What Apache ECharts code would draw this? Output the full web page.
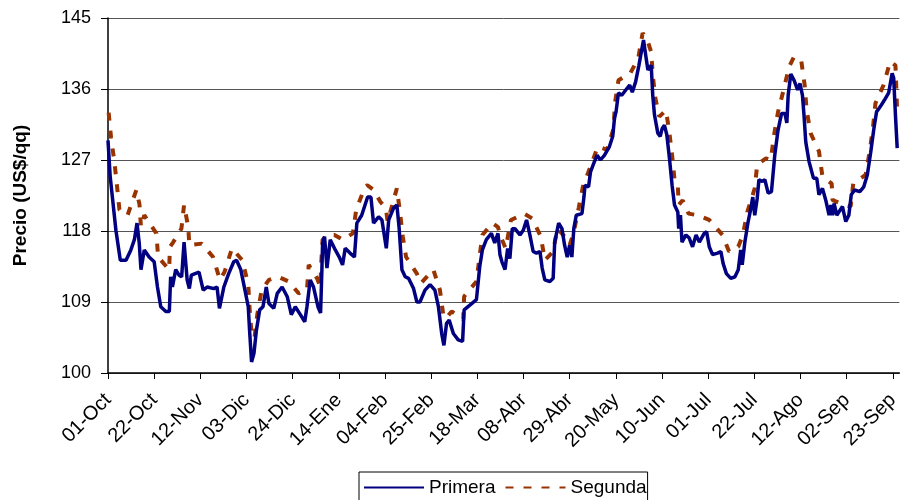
<!DOCTYPE html>
<html>
<head>
<meta charset="utf-8">
<script src="https://cdn.jsdelivr.net/npm/echarts@6/dist/echarts.min.js"></script>
<style>
  html, body { margin: 0; padding: 0; background: #fff; }
  #chart { width: 902px; height: 500px; }
</style>
</head>
<body>
<div id="chart"></div>
<script>
// tick labels every 21 days, starting 01-Oct
const tickLabels = ['01-Oct', '22-Oct', '12-Nov', '03-Dic', '24-Dic', '14-Ene', '04-Feb', '25-Feb', '18-Mar',
  '08-Abr', '29-Abr', '20-May', '10-Jun', '01-Jul', '22-Jul', '12-Ago', '02-Sep', '23-Sep']

// Primera: day since 01-Oct, price
const primeraDays = [0, 1, 3.6, 5.6, 8.2, 10.4, 12, 13.2, 14.2, 15, 16.5, 18.7, 21, 22.5, 24, 26.3, 27.9, 28.5, 29.3, 30.8,
  32.3, 33.5, 34.6, 36, 37, 37.9, 41.4, 43.3, 45.1, 48.1, 49.6, 50.7, 52.7, 54.9, 57.2, 58.5, 60.4, 62.3, 63.8, 64.4,
  65.3, 66.4, 67.5, 69, 70.5, 72, 73.2, 75.4, 77, 79.2, 81.5, 83.4, 85.2, 87.5, 89.5, 90.5, 92, 93.5, 95.5, 96.7,
  97.3, 97.6, 98.5, 99.6, 101.1, 103.4, 105.2, 106.7, 107.9, 110.1, 112.1, 113.2, 115.4, 118.1, 119.6, 120.8, 123.1, 124.6, 126.6, 127.7,
  129.9, 131.4, 132.4, 133.7, 135.2, 136.7, 139, 140.5, 141.9, 144.2, 146.5, 148.7, 150.3, 151.8, 152.8, 154, 155.2, 157.1, 159.3, 161.3,
  162, 164.6, 167.6, 169.1, 170.3, 172.1, 174.4, 175.9, 177.4, 178.3, 179.2, 180.6, 181.8, 182.8, 183.9, 185.1, 187.4, 188.9, 190.4, 191.9,
  193.4, 194.9, 196.5, 197.5, 198.7, 201, 202.5, 203.2, 205, 206.5, 207.7, 208.9, 210, 211, 211.9, 213, 215.6, 216.5, 217, 218.6,
  219.5, 221, 222.5, 224, 225.8, 228.1, 229.6, 230.4, 231.1, 232.2, 233.7, 235.6, 237.3, 238.5, 240, 241.5, 242.6, 243.6, 244.8, 245.6,
  247.1, 247.8, 248.6, 250.1, 251.2, 252.1, 253.1, 254.2, 255.4, 256.6, 257.7, 259.2, 259.6, 260.4, 261.1, 262.9, 264.4, 265.9, 267.5, 269,
  271.2, 272.3, 273.5, 275, 277.3, 278.8, 279.8, 281.3, 283.3, 285.2, 286.7, 287.8, 288.5, 289.7, 291.2, 292.3, 293.3, 294.2, 295.3, 296.1,
  297.6, 298.8, 300.3, 301.8, 303.3, 304.8, 306.4, 307.9, 308.8, 309.4, 310.6, 312.1, 313.7, 314.8, 315.9, 316.6, 317.4, 318.9, 320.9, 322.4,
  323.4, 325, 326.5, 328, 328.8, 329.6, 330.3, 331.5, 334.1, 335.6, 337, 338.1, 339.6, 342, 343.8, 345.4, 346.9, 348.4, 349.6, 351.4,
  353.2, 355.1, 356.7, 357.4, 358.2, 359]
const primeraValues = [129.5, 124.9, 118.1, 114.3, 114.3, 115.6, 116.9, 119.0, 116.5, 113.1, 115.6, 114.7, 114.1, 110.9, 108.4, 107.8, 107.8, 112.2, 110.9, 113.1,
  112.4, 112.2, 116.6, 111.8, 110.7, 112.4, 112.8, 110.5, 110.9, 110.7, 110.9, 108.2, 110.9, 112.6, 114.1, 114.3, 113.1, 110.5, 108.4, 105.4,
  101.4, 102.5, 105.4, 108, 108.4, 110.9, 108.8, 108.2, 110.1, 110.9, 109.7, 107.4, 108.4, 107.4, 106.5, 108.4, 111.8, 110.9, 108.4, 107.6,
  113.1, 116.4, 117.3, 113.3, 116.9, 115.6, 114.7, 113.7, 115.8, 115.2, 114.7, 119.0, 120.0, 122.3, 122.3, 119.0, 119.8, 119.4, 115.8, 119.4,
  120.9, 121.3, 118.5, 113.1, 112.2, 112.0, 110.7, 109.0, 109.0, 110.5, 111.2, 110.5, 108.4, 105.0, 103.5, 106.3, 106.7, 105.0, 104.2, 104.0,
  108.0, 108.6, 109.3, 113.5, 115.6, 116.9, 117.7, 116.5, 117.7, 115.0, 114.1, 113.1, 115.8, 114.5, 118.3, 118.3, 117.5, 118.1, 119.4, 117.5,
  115.4, 115.2, 115.4, 113.3, 111.8, 111.6, 112.0, 116.6, 119.0, 118.3, 116.2, 114.7, 116.2, 114.7, 118.3, 120.0, 120.2, 122.3, 123.8, 123.6,
  125.5, 126.6, 127.6, 127.0, 127.6, 128.7, 130.0, 132.3, 133.1, 135.5, 135.2, 135.9, 136.5, 135.6, 136.9, 139.0, 140.7, 142.2, 139.9, 138.4,
  139.0, 135.2, 132.7, 130.4, 130.0, 131.0, 131.4, 130.2, 127.2, 123.8, 121.3, 120.4, 118.3, 120.0, 116.6, 117.5, 117.1, 116.0, 117.5, 116.6,
  117.7, 117.9, 116.0, 115.0, 115.2, 115.4, 113.9, 112.6, 112.0, 112.2, 113.1, 115.6, 113.7, 116.6, 119.2, 120.7, 122.3, 120.0, 122.1, 124.5,
  124.3, 124.5, 122.8, 123.0, 127.6, 130.8, 132.9, 132.9, 131.7, 135.2, 137.9, 137.1, 135.9, 136.7, 135.2, 132.7, 129.3, 126.8, 124.7, 124.7,
  122.6, 123.4, 121.9, 120.0, 121.3, 120.0, 121.5, 120.0, 121.1, 119.2, 120.0, 122.6, 123.2, 123.0, 123.6, 125.1, 127.9, 131.0, 133.1, 133.8,
  134.6, 135.5, 138.0, 137.4, 132.7, 128.5]

// Segunda
const segundaDays = [0.3, 1.4, 2.9, 4.1, 5.2, 8.9, 12.9, 14.3, 15, 16.5, 22, 22.8, 27.8, 28.2, 29.7, 33.4, 34.6, 36.5, 37, 42.6,
  47.8, 50.9, 53, 56.4, 61.1, 63.8, 64.4, 65.3, 66.6, 67.9, 69.9, 73.2, 77.4, 82.2, 86.7, 90.5, 91.3, 95.1, 96.6, 97,
  97.6, 100, 103, 106.8, 111.4, 112.9, 116.9, 118, 120.8, 123.9, 126.4, 127.2, 131.4, 132.9, 134.1, 135.6, 140.5, 142.4, 148, 151,
  152.5, 153.6, 156.3, 161.6, 162, 167.6, 168.8, 170.3, 174.8, 177.4, 178.3, 180.9, 183.3, 189.3, 192.9, 196.9, 198.7, 202.5, 204.4, 207.7,
  210, 211.9, 214.1, 216, 219.5, 222.8, 227, 230, 230.6, 232.2, 237.6, 241.2, 243.2, 245.3, 247.1, 247.8, 249, 250.8, 253.8, 255.3,
  256.6, 257.7, 259.2, 259.6, 261.4, 264.1, 268.2, 273.5, 279.5, 282.5, 286.7, 288.8, 290.8, 294.2, 295.3, 299.3, 301.5, 303, 304.8, 307.5,
  309.8, 312.1, 315.4, 316.9, 317.8, 319.6, 323.4, 325, 329.2, 329.6, 335.2, 337.8, 339, 344.6, 346.5, 348, 349.1, 352.8, 355.8, 358.2,
  358.6, 359]
const segundaValues = [133.0, 129.8, 126.8, 123.7, 120.7, 120.0, 123.2, 121.4, 118.5, 120.0, 117.7, 114.7, 113.1, 116.0, 116.6, 118.3, 121.3, 118.5, 116.2, 116.4,
  114.7, 111.8, 112.8, 115.8, 114.3, 111.2, 108.2, 105.0, 104.4, 107.4, 110.5, 111.8, 112.2, 111.6, 110.1, 110.5, 113.7, 112.0, 110.9, 113.9,
  116.9, 117.5, 117.5, 116.9, 117.7, 120.7, 123.6, 123.8, 123.2, 121.7, 120.9, 119.2, 123.4, 120.2, 117.3, 114.7, 112.6, 111.4, 113.1, 110.5,
  107.4, 106.9, 107.8, 106.8, 109.7, 111.6, 114.3, 117.5, 119.0, 118.5, 117.5, 115.8, 119.4, 120.2, 119.6, 117.3, 114.3, 115.4, 118.3, 117.3,
  116.2, 117.9, 120.9, 123.6, 126.2, 128.7, 128.3, 131.0, 134.2, 137.1, 138.0, 139.9, 143.1, 142.2, 140.7, 137.8, 134.8, 132.5, 133.3, 130.6,
  127.6, 124.5, 123.8, 121.3, 121.9, 120.2, 120.0, 119.4, 117.5, 115.4, 116.0, 117.5, 120.4, 123.4, 126.4, 127.2, 127.0, 130.2, 133.1, 136.1,
  138.8, 140.1, 139.5, 136.5, 133.3, 130.4, 128.1, 124.9, 124.0, 121.9, 121.3, 121.1, 124.0, 125.1, 128.1, 131.2, 134.2, 136.5, 139.5, 139.0,
  136.1, 132.9]

const zip = (a, b) => a.map((d, i) => [d, b[i]])

const chart = echarts.init(document.getElementById('chart'))
chart.setOption({
  animation: false,
  textStyle: { fontFamily: 'Liberation Sans, Arial, sans-serif' },
  grid: { left: 108, top: 18, width: 796, height: 355 },
  legend: {
    left: 359,
    top: 472,
    padding: [6, 1, 8, 4],
    borderColor: '#000',
    borderWidth: 1,
    borderRadius: 0,
    itemWidth: 60,
    itemHeight: 14,
    itemGap: 9,
    itemStyle: { opacity: 0 },
    textStyle: { fontSize: 19, color: '#000' },
    data: ['Primera', 'Segunda']
  },
  xAxis: {
    type: 'value',
    min: 0,
    max: 360,
    interval: 21,
    axisLine: { lineStyle: { color: '#000', width: 1.5 } },
    axisTick: { length: 6, lineStyle: { color: '#000' } },
    splitLine: { show: false },
    axisLabel: {
      rotate: 45,
      fontSize: 20,
      color: '#000',
      margin: 24,
      showMaxLabel: false,
      formatter: v => (v % 21 === 0 ? (tickLabels[v / 21] || '') : '')
    }
  },
  yAxis: {
    type: 'value',
    min: 100,
    max: 145,
    interval: 9,
    name: 'Precio (US$/qq)',
    nameLocation: 'middle',
    nameGap: 78,
    nameTextStyle: { fontSize: 19, fontWeight: 'bold', color: '#000' },
    axisLine: { show: true, lineStyle: { color: '#000', width: 1.5 } },
    axisTick: { show: true, length: 7, lineStyle: { color: '#000' } },
    axisLabel: { fontSize: 18, color: '#000', margin: 17 },
    splitLine: { lineStyle: { color: '#555', width: 1 } }
  },
  series: [
    {
      name: 'Primera',
      type: 'line',
      symbol: 'none',
      data: zip(primeraDays, primeraValues),
      lineStyle: { color: '#000080', width: 3.5 },
      itemStyle: { color: '#000080' },
      z: 3
    },
    {
      name: 'Segunda',
      type: 'line',
      symbol: 'none',
      data: zip(segundaDays, segundaValues),
      lineStyle: { color: '#993300', width: 4, type: [8, 10] },
      itemStyle: { color: '#993300' },
      z: 2
    }
  ]
})
</script>
</body>
</html>
